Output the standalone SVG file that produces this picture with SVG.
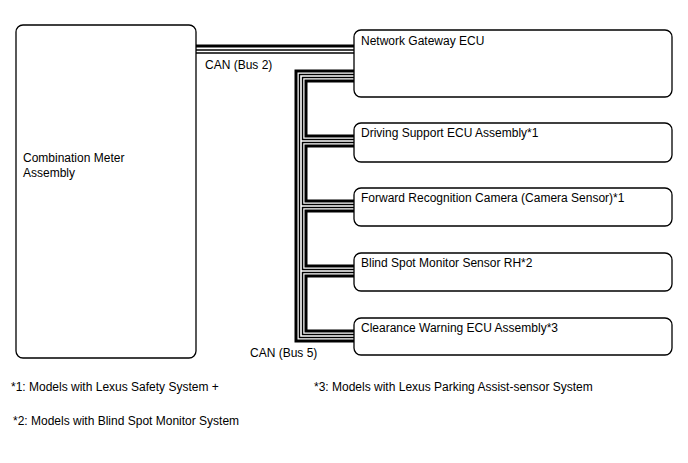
<svg xmlns="http://www.w3.org/2000/svg" width="688" height="463" viewBox="0 0 688 463">
<style>
.box{fill:#fff;stroke:#000;stroke-width:1.3}
.t{font-family:"Liberation Sans",Arial,sans-serif;font-size:12px;fill:#000}
.thick{fill:none;stroke:#000;stroke-width:3}
.hb{fill:none;stroke:#000;stroke-width:4.5}
.hw{fill:none;stroke:#fff;stroke-width:1.6}
</style>
<rect width="688" height="463" fill="#fff"/>
<g id="connectors">
  <!-- Bus 2 -->
  <path class="thick" d="M196 46H354"/>
  <path class="hb" d="M196 51.5H354"/>
  <path class="hw" d="M196 51.5H354"/>
  <!-- Bus 5 outer thick -->
  <path class="thick" d="M354 71H296V341H354"/>
  <!-- Bus 5 hollow -->
  <path class="hb" d="M354 76H301V336H354M301 141H354M301 206H354M301 271H354"/>
  <path class="hw" d="M354 76H301V336H354M301 141H354M301 206H354M301 271H354"/>
  <!-- Bus 5 inner thick chain -->
  <path class="thick" d="M354 81H306V136H354M354 146H306V201H354M354 211H306V266H354M354 276H306V331H354"/>
</g>
<g id="combination-meter">
  <rect class="box" x="16" y="25" width="180" height="333" rx="7"/>
  <text class="t" x="23" y="162">Combination Meter</text>
  <text class="t" x="23" y="177">Assembly</text>
</g>
<g id="gateway">
  <rect class="box" x="354" y="30" width="318" height="67" rx="7"/>
  <text class="t" x="361" y="45">Network Gateway ECU</text>
</g>
<g id="driving-support">
  <rect class="box" x="354" y="123" width="318" height="39" rx="7"/>
  <text class="t" x="361" y="137">Driving Support ECU Assembly*1</text>
</g>
<g id="forward-camera">
  <rect class="box" x="354" y="188" width="318" height="38" rx="7"/>
  <text class="t" x="361" y="202">Forward Recognition Camera (Camera Sensor)*1</text>
</g>
<g id="blind-spot">
  <rect class="box" x="354" y="253" width="318" height="38" rx="7"/>
  <text class="t" x="361" y="267">Blind Spot Monitor Sensor RH*2</text>
</g>
<g id="clearance-warning">
  <rect class="box" x="354" y="318" width="318" height="37" rx="7"/>
  <text class="t" x="361" y="332">Clearance Warning ECU Assembly*3</text>
</g>
<g id="labels">
  <text class="t" x="205" y="69">CAN (Bus 2)</text>
  <text class="t" x="250" y="357">CAN (Bus 5)</text>
  <text class="t" x="11" y="391">*1: Models with Lexus Safety System +</text>
  <text class="t" x="314" y="391">*3: Models with Lexus Parking Assist-sensor System</text>
  <text class="t" x="13" y="425">*2: Models with Blind Spot Monitor System</text>
</g>
</svg>
